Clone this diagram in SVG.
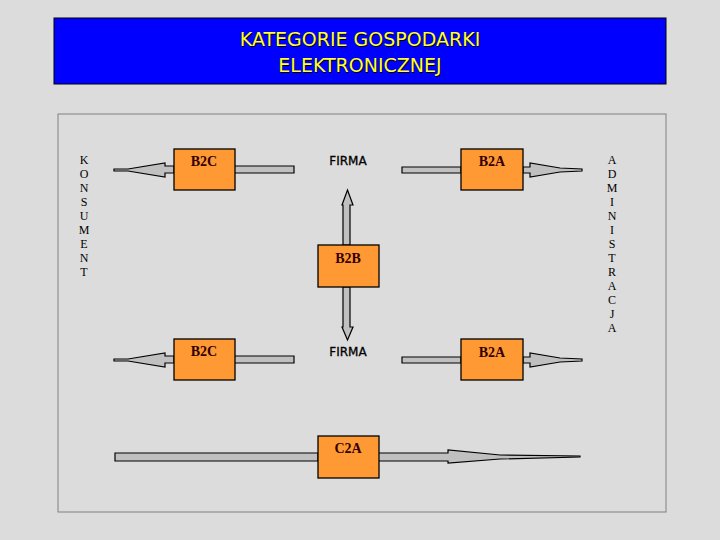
<svg xmlns="http://www.w3.org/2000/svg" width="720" height="540" viewBox="0 0 720 540">
<style>
.box{fill:#ff9933;stroke:#000;stroke-width:1.3}
.bl{font-family:"Liberation Serif",serif;font-size:14px;font-weight:bold;fill:#330000;text-anchor:middle}
.fi{font-family:"DejaVu Sans",sans-serif;font-size:12px;fill:#000;text-anchor:middle;stroke:#000;stroke-width:0.3}
.ar{fill:#c0c0c0;stroke:#000;stroke-width:1.2}
.side{font-family:"Liberation Serif",serif;font-size:12px;fill:#000;text-anchor:middle}
.tt{font-family:"DejaVu Sans",sans-serif;font-size:19px;text-anchor:middle}
</style>
<rect width="720" height="540" fill="#dcdcdc"/>
<g id="title">
<rect x="54" y="18" width="612" height="66" fill="#0000ff" stroke="#000"/>
<text class="tt" x="361" y="47" fill="#000">KATEGORIE GOSPODARKI</text>
<text class="tt" x="361" y="73" fill="#000">ELEKTRONICZNEJ</text>
<text class="tt" x="360" y="46" fill="#ffff33">KATEGORIE GOSPODARKI</text>
<text class="tt" x="360" y="72" fill="#ffff33">ELEKTRONICZNEJ</text>
</g>
<rect x="58" y="114" width="608" height="398" fill="#dcdcdc" stroke="#808080"/>
<g id="connectors">
<path class="ar" d="M234,166 H294 V173 H234 Z"/>
<path class="ar" d="M174,166 H165 V163 L128,169 L114,169 L114,171 L128,171 L165,177 V173 H174 Z"/>
<path class="ar" d="M402,167 H461 V173 H402 Z"/>
<path class="ar" d="M523,167 H530 V163 L560,168 L582,169 V171 L560,172 L530,177 V173 H523 Z"/>
<path class="ar" d="M343,245 V205 H342 L347.5,190 L353,205 H350 V245 Z"/>
<path class="ar" d="M343,287 V327 H342 L347.5,340 L353,327 H350 V287 Z"/>
<path class="ar" d="M174,356 H165 V353 L128,359 L114,359 L114,361 L128,361 L165,367 V363 H174 Z"/>
<path class="ar" d="M234,356 H294 V363 H234 Z"/>
<path class="ar" d="M402,357 H461 V363 H402 Z"/>
<path class="ar" d="M523,357 H530 V353 L560,358 L582,359 V361 L560,362 L530,367 V363 H523 Z"/>
<path class="ar" d="M115,453 H318 V461 H115 Z"/>
<path class="ar" d="M378,453 H448 V450 L500,455 L580,456 V457 L500,459 L448,463 V461 H378 Z"/>
</g>
<g id="b2c1"><rect class="box" x="174" y="149" width="61" height="41"/><text class="bl" x="204" y="166">B2C</text></g>
<g id="firma1"><text class="fi" x="348" y="165">FIRMA</text></g>
<g id="b2a1"><rect class="box" x="461" y="149" width="62" height="41"/><text class="bl" x="492" y="166">B2A</text></g>
<g id="b2b"><rect class="box" x="318" y="245" width="61" height="42"/><text class="bl" x="348" y="263">B2B</text></g>
<g id="b2c2"><rect class="box" x="174" y="339" width="61" height="41"/><text class="bl" x="204" y="356">B2C</text></g>
<g id="firma2"><text class="fi" x="348" y="356">FIRMA</text></g>
<g id="b2a2"><rect class="box" x="461" y="339" width="62" height="41"/><text class="bl" x="492" y="357">B2A</text></g>
<g id="c2a"><rect class="box" x="318" y="436" width="61" height="42"/><text class="bl" x="348" y="453">C2A</text></g>
<g id="konsument">
<text class="side" x="84" y="164">K</text><text class="side" x="84" y="178">O</text><text class="side" x="84" y="192">N</text><text class="side" x="84" y="206">S</text><text class="side" x="84" y="220">U</text><text class="side" x="84" y="234">M</text><text class="side" x="84" y="248">E</text><text class="side" x="84" y="262">N</text><text class="side" x="84" y="276">T</text>
</g>
<g id="administracja">
<text class="side" x="612" y="164">A</text><text class="side" x="612" y="178">D</text><text class="side" x="612" y="192">M</text><text class="side" x="612" y="206">I</text><text class="side" x="612" y="220">N</text><text class="side" x="612" y="234">I</text><text class="side" x="612" y="248">S</text><text class="side" x="612" y="262">T</text><text class="side" x="612" y="276">R</text><text class="side" x="612" y="290">A</text><text class="side" x="612" y="304">C</text><text class="side" x="612" y="318">J</text><text class="side" x="612" y="332">A</text>
</g>
</svg>
